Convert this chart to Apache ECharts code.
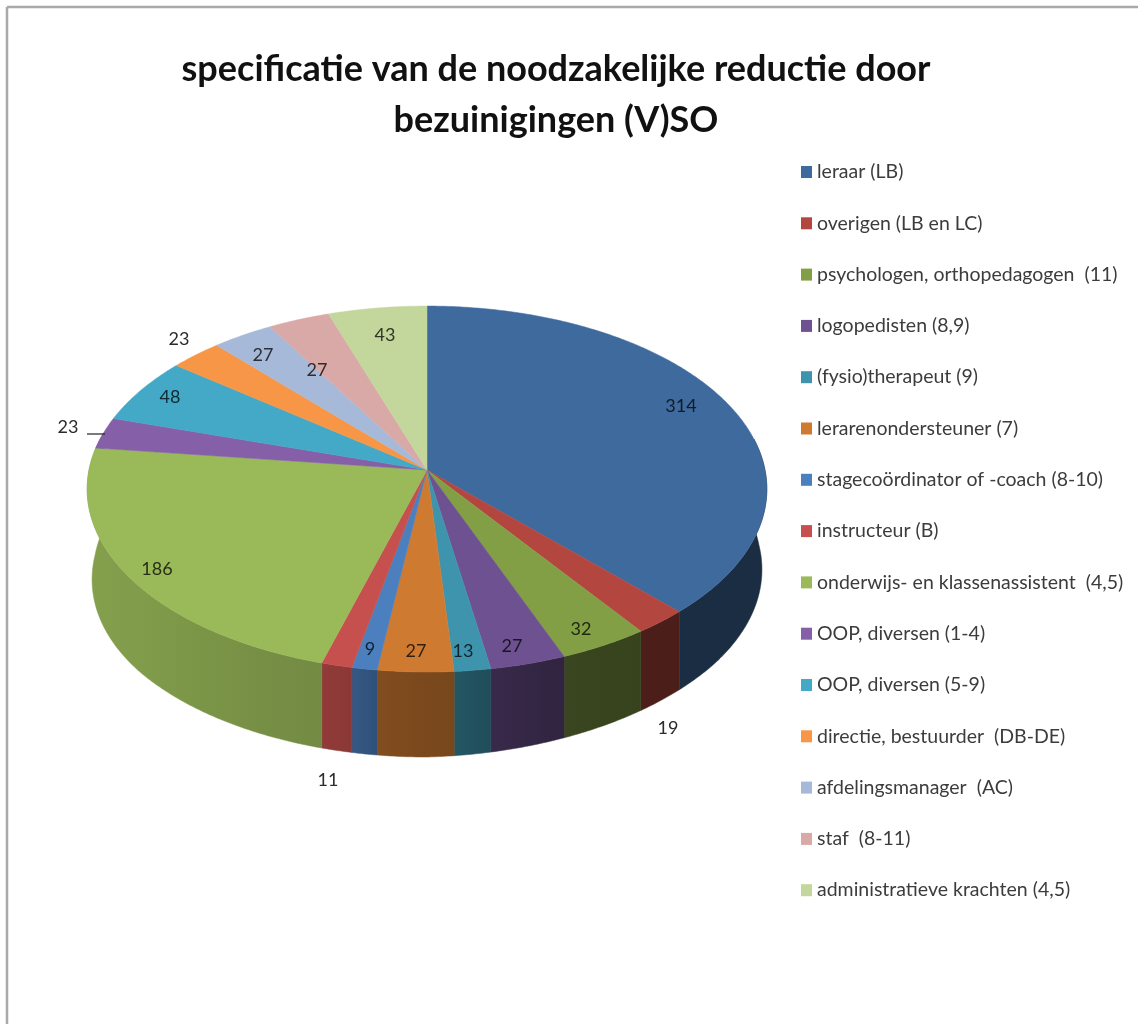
<!DOCTYPE html>
<html>
<head>
<meta charset="utf-8">
<title>specificatie van de noodzakelijke reductie</title>
<style>html,body{margin:0;padding:0;background:#fff}#chart{width:1138px;height:1024px}</style>
<script src="https://cdn.jsdelivr.net/npm/echarts@6/dist/echarts.min.js"></script>
</head>
<body>
<div id="chart"></div>
<script>
// ---- data ----
const titleText = 'specificatie van de noodzakelijke reductie door\nbezuinigingen (V)SO';
const categories = [
  'leraar (LB)',
  'overigen (LB en LC)',
  'psychologen, orthopedagogen  (11)',
  'logopedisten (8,9)',
  '(fysio)therapeut (9)',
  'lerarenondersteuner (7)',
  'stagecoördinator of -coach (8-10)',
  'instructeur (B)',
  'onderwijs- en klassenassistent  (4,5)',
  'OOP, diversen (1-4)',
  'OOP, diversen (5-9)',
  'directie, bestuurder  (DB-DE)',
  'afdelingsmanager  (AC)',
  'staf  (8-11)',
  'administratieve krachten (4,5)'
];
const values = [314, 19, 32, 27, 13, 27, 9, 11, 186, 23, 48, 23, 27, 27, 43];

// ---- styling and layout (not data) ----
const colors = ['#3f6a9e', '#b3473f', '#839f45', '#6e5190', '#3e94ac', '#cf7a31', '#4b7fbe', '#c5504d',
                '#9aba59', '#8560a8', '#43a9c6', '#f79646', '#a7b9d9', '#d9a9a8', '#c3d69b'];
const labelAnchors = [[681,406],[668,728],[581,629],[512,646],[463,651],[416,651],[370,649],[328,780],
                      [157,569],[68,427],[170,397],[179,339],[263,355],[317,370],[385,335]];
const outsideLabels = [1, 7, 9, 11];
const leader = {index: 9, from: [87,434], to: [105,434]};
const view = {cx: 427, cy: 470, rx: 338, ry: 181, k: 0.104, depth: 85, baseScale: 0.982};
const wallShade = [[93,.86],[322,.74],[352,.70],[380,.62],[455,.58],[490,.52],[560,.44],[640,.42],[765,.42]];

const total = values.reduce((a, b) => a + b, 0);
const rad = d => d * Math.PI / 180;
function project(deg, base) {
  const u = Math.sin(rad(deg)), v = -Math.cos(rad(deg));
  const d = 1 - view.k * v;
  const sx = base ? view.baseScale + (1 - view.baseScale) * Math.min(1, Math.max(0, v) / 0.6) : 1;
  const depth = base ? view.depth - 10 * Math.max(0, u) : 0;
  return [view.cx + sx * view.rx * u / d, view.cy + view.ry * v / d + depth];
}
function shade(hex, f) {
  const n = parseInt(hex.slice(1), 16);
  const c = s => Math.round(((n >> s) & 255) * f);
  return 'rgb(' + c(16) + ',' + c(8) + ',' + c(0) + ')';
}
function shadeAt(x) {
  for (let i = 1; i < wallShade.length; i++) {
    if (x <= wallShade[i][0]) {
      const a = wallShade[i - 1], b = wallShade[i];
      return a[1] + (b[1] - a[1]) * Math.max(0, x - a[0]) / (b[0] - a[0]);
    }
  }
  return wallShade[wallShade.length - 1][1];
}
function arc(a0, a1, base) {
  const pts = [], n = Math.max(2, Math.ceil(Math.abs(a1 - a0) * 2));
  for (let i = 0; i <= n; i++) pts.push(project(a0 + (a1 - a0) * i / n, base));
  return pts;
}
function renderSlice(i) {
  return function () {
    let before = 0;
    for (let j = 0; j < i; j++) before += values[j];
    const a0 = before / total * 360, a1 = (before + values[i]) / total * 360;
    const color = colors[i];
    const children = [];
    const w0 = Math.max(a0, 80), w1 = Math.min(a1, 282);
    if (w1 > w0) {
      const topArc = arc(w0, w1, false), baseArc = arc(w1, w0, true);
      const xs = topArc.concat(baseArc).map(p => p[0]);
      const xl = Math.min.apply(null, xs), xr = Math.max.apply(null, xs);
      const stops = [];
      for (let s = 0; s <= 4; s++) {
        stops.push({offset: s / 4, color: shade(color, shadeAt(xl + (xr - xl) * s / 4))});
      }
      const fill = new echarts.graphic.LinearGradient(0, 0, 1, 0, stops);
      children.push({type: 'polygon', z2: 1, silent: true,
        shape: {points: topArc.concat(baseArc)},
        style: {fill: fill, stroke: fill, lineWidth: 0.5}});
    }
    children.push({type: 'polygon', z2: 2, silent: true,
      shape: {points: [[view.cx, view.cy]].concat(arc(a0, a1, false))},
      style: {fill: color, stroke: color, lineWidth: 0.5}});
    const outside = outsideLabels.indexOf(i) >= 0;
    children.push({type: 'text', z2: 4, silent: true,
      style: {text: String(values[i]), x: labelAnchors[i][0], y: labelAnchors[i][1],
        align: 'center', verticalAlign: 'middle',
        font: '18px Lato', fill: outside ? '#2b2b2b' : shade(color, 0.25)}});
    if (leader.index === i) {
      children.push({type: 'line', z2: 3, silent: true,
        shape: {x1: leader.from[0], y1: leader.from[1], x2: leader.to[0], y2: leader.to[1]},
        style: {stroke: '#222', lineWidth: 1.2}});
    }
    return {type: 'group', children: children};
  };
}

const chart = echarts.init(document.getElementById('chart'), null, {renderer: 'canvas'});
chart.setOption({
  animation: false,
  backgroundColor: '#ffffff',
  color: colors,
  title: {
    text: titleText, left: 551, top: 39, textAlign: 'center',
    textStyle: {fontFamily: 'Lato', fontWeight: 'bold', fontSize: 36, lineHeight: 51, color: '#111'}
  },
  legend: {
    orient: 'vertical', left: 796, top: 157, icon: 'rect', itemWidth: 11, itemHeight: 12,
    itemGap: 31.3, selectedMode: false, data: categories,
    textStyle: {fontFamily: 'Lato', fontSize: 19.5, color: '#3c3c3c'}
  },
  graphic: [
    {type: 'line', silent: true, shape: {x1: 7, y1: 7, x2: 1138, y2: 7}, style: {stroke: '#a9a9a9', lineWidth: 2.5}},
    {type: 'line', silent: true, shape: {x1: 7, y1: 7, x2: 7, y2: 1024}, style: {stroke: '#a9a9a9', lineWidth: 2.5}}
  ],
  series: categories.map((name, i) => ({
    type: 'custom', name: name, coordinateSystem: 'none', silent: true,
    data: [values[i]], renderItem: renderSlice(i)
  }))
});
</script>
</body>
</html>
